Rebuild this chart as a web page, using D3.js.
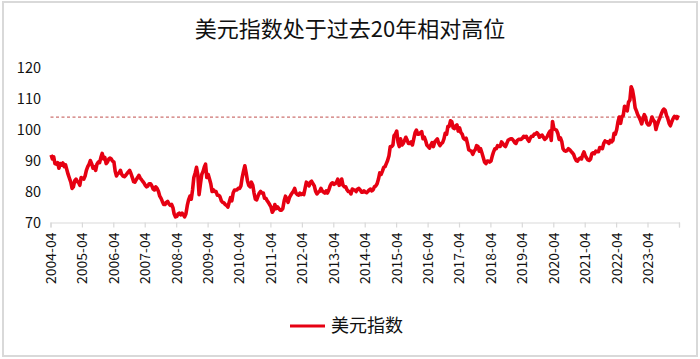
<!DOCTYPE html>
<html><head><meta charset="utf-8">
<script src="https://cdn.jsdelivr.net/npm/d3@7"></script>
<style>
html,body{margin:0;padding:0;background:#fff;}
svg{display:block;font-family:"Noto Sans CJK SC","Noto Sans",sans-serif;}
</style></head>
<body>
<svg id="chart" width="700" height="359"></svg>
<script>
// Semi-monthly readings of the US Dollar Index (two per month), April 2004 – March 2024
const y2004 = [91.8,90.5, 91.2,89.0, 88.8,89.3, 87.5,89.0, 88.5,89.2, 88.0,88.6, 87.0,85.5, 84.2,83.0, 81.0,81.5];
const y2005 = [83.5,84.0, 83.2,82.8, 82.0,84.5, 84.2,84.0, 85.0,86.8, 88.0,88.8, 90.0,89.0, 87.5,88.0, 86.8,88.8, 89.5,89.3, 91.0,92.3, 90.5,91.0];
const y2006 = [89.0,89.5, 90.5,90.8, 90.5,89.8, 89.5,86.5, 85.0,85.8, 86.0,86.8, 85.5,85.0, 84.8,85.2, 85.8,86.3, 86.8,85.8, 84.5,83.2, 83.0,83.8];
const y2007 = [84.5,85.2, 84.3,83.8, 83.3,82.8, 82.0,81.5, 81.8,82.5, 82.5,81.8, 80.8,80.5, 81.5,81.0, 80.0,78.5, 77.8,76.8, 75.8,75.8, 76.5,76.8];
const y2008 = [76.0,75.5, 75.8,74.8, 72.8,71.8, 72.0,72.8, 73.0,72.5, 73.0,72.5, 71.8,72.8, 75.5,77.3, 78.5,77.5, 80.5,84.5, 86.0,87.8, 85.5,79.0];
const y2009 = [82.5,85.5, 86.5,88.0, 88.8,84.5, 85.5,84.0, 82.5,80.0, 80.5,80.0, 80.0,78.8, 78.8,78.3, 77.0,76.5, 76.3,75.8, 75.5,75.0, 76.5,78.0];
const y2010 = [77.0,79.5, 80.5,80.5, 80.5,81.0, 81.0,81.8, 84.5,86.5, 88.3,86.0, 83.5,82.0, 81.5,83.0, 82.0,79.5, 77.5,77.3, 78.5,79.5, 80.0,79.5];
const y2011 = [79.5,77.8, 77.8,77.0, 76.5,75.8, 75.0,73.3, 74.0,75.8, 74.5,75.0, 74.5,74.0, 74.0,74.5, 77.0,78.5, 77.5,76.5, 78.0,78.8, 79.5,80.0];
const y2012 = [81.0,79.5, 79.0,78.8, 79.5,79.0, 79.3,79.0, 81.0,83.0, 82.5,81.8, 83.0,83.3, 82.5,81.8, 80.0,79.2, 79.8,80.0, 81.0,80.2, 79.8,79.5];
const y2013 = [80.2,79.5, 80.5,81.8, 82.5,82.8, 82.3,82.5, 83.0,84.0, 82.0,82.5, 84.0,82.0, 81.5,81.5, 80.5,80.0, 80.0,79.2, 80.8,80.5, 80.5,80.0];
const y2014 = [80.8,81.0, 80.5,79.8, 79.8,80.2, 79.8,79.6, 80.0,80.5, 80.8,80.2, 80.6,81.5, 81.8,82.5, 84.0,86.0, 85.5,86.5, 87.8,88.0, 89.0,90.0];
const y2015 = [91.5,94.5, 94.5,95.0, 98.0,98.5, 99.5,96.0, 94.5,97.0, 95.0,95.5, 96.5,97.5, 96.5,95.5, 95.5,96.0, 95.0,97.0, 99.0,99.8, 98.5,98.5];
const y2016 = [99.0,99.3, 97.0,97.5, 96.5,95.0, 94.5,94.0, 95.0,95.8, 94.5,96.0, 96.5,97.0, 95.5,94.8, 95.5,95.8, 97.0,98.8, 98.5,101.0, 101.0,102.8];
const y2017 = [102.5,100.5, 100.3,101.2, 101.5,99.5, 100.5,99.0, 98.5,97.2, 96.8,97.2, 95.5,93.5, 93.2,93.0, 92.0,93.0, 93.5,94.8, 94.5,93.0, 93.8,92.5];
const y2018 = [91.0,89.5, 89.0,89.8, 89.8,89.5, 89.8,91.5, 92.8,93.8, 93.8,94.8, 94.5,94.5, 96.0,95.5, 94.8,94.5, 95.5,96.5, 96.8,97.0, 97.0,96.5];
const y2019 = [95.8,95.5, 96.5,96.8, 96.8,96.8, 97.2,97.8, 97.5,97.8, 96.8,96.2, 97.2,97.8, 97.8,98.5, 98.5,99.0, 98.5,97.5, 98.0,98.2, 97.5,96.8];
const y2020 = [97.2,97.8, 98.8,99.5, 96.5,102.6, 100.2,100.0, 99.8,98.8, 96.8,97.3, 96.2,93.8, 93.2,93.0, 93.2,93.8, 93.5,93.0, 92.5,92.0, 90.8,90.0];
const y2021 = [89.8,90.5, 90.8,90.5, 91.8,92.8, 91.5,90.8, 90.2,90.0, 90.5,92.2, 92.5,92.2, 93.0,92.8, 92.8,94.2, 94.0,93.8, 95.5,96.3, 96.0,96.0];
const y2022 = [95.5,96.5, 96.0,96.5, 98.8,98.5, 100.0,102.5, 104.0,102.0, 104.2,104.5, 107.5,106.5, 106.0,108.8, 109.5,113.8, 112.8,110.5, 107.0,106.0, 104.8,104.0];
const y2023 = [103.0,101.8, 103.5,104.8, 104.0,102.2, 101.5,101.5, 102.5,104.0, 103.0,102.5, 100.0,101.5, 102.8,103.8, 105.0,106.0, 106.6,106.2, 104.5,103.5, 102.0,101.2];
const y2024 = [102.5,103.5, 104.2,104.0, 103.5,104.6];

const seriesName = "美元指数";
const titleText = "美元指数处于过去20年相对高位";
const refLevel = [104];
const yTicks = [70, 80, 90, 100, 110, 120];
const tickYears = d3.range(2004, 2025);

const values = [].concat(y2004,y2005,y2006,y2007,y2008,y2009,y2010,y2011,y2012,y2013,
  y2014,y2015,y2016,y2017,y2018,y2019,y2020,y2021,y2022,y2023,y2024);
const data = values.map((v, i) => ({
  date: new Date(2004, 3 + Math.floor(i / 2), i % 2 ? 23 : 8),
  value: v
}));

const svg = d3.select("#chart");
const W = 700, H = 359;

// outer frame
svg.append("rect").attr("x", 3).attr("y", 2).attr("width", W - 6).attr("height", H - 5)
  .attr("fill", "#fff").attr("stroke", "#d9d9d9").attr("stroke-width", 2);

const x = d3.scaleTime()
  .domain([new Date(2004, 3, 1), new Date(2024, 3, 1)])
  .range([50.5, 679]);
const y = d3.scaleLinear().domain([70, 120]).range([222.5, 67.5]);

// title
svg.append("text").attr("x", 350).attr("y", 37).attr("text-anchor", "middle")
  .attr("font-size", 22).attr("fill", "#111").text(titleText);

// y axis (labels only)
const yAxis = svg.append("g").attr("transform", "translate(41,0)")
  .call(d3.axisLeft(y).tickValues(yTicks).tickSize(0).tickPadding(0));
yAxis.select(".domain").remove();
yAxis.selectAll("text").attr("font-size", 14.5).attr("fill", "#111")
  .attr("font-family", "'Noto Sans CJK SC','Noto Sans',sans-serif");

// x axis
const xAxis = svg.append("g").attr("transform", "translate(0,222.5)")
  .call(d3.axisBottom(x)
    .tickValues(tickYears.map(yr => new Date(yr, 3, 1)))
    .tickSize(5)
    .tickFormat(d => d.getFullYear() < 2024 ? d3.timeFormat("%Y-%m")(d) : ""));
xAxis.select(".domain").attr("stroke", "#d9d9d9").attr("stroke-width", 1.2);
xAxis.selectAll(".tick line").attr("stroke", "#d9d9d9").attr("stroke-width", 1.2);
xAxis.selectAll("text")
  .attr("font-size", 14).attr("fill", "#111")
  .attr("font-family", "'Noto Sans CJK SC','Noto Sans',sans-serif")
  .attr("text-anchor", "end")
  .attr("transform", "rotate(-90)")
  .attr("x", -10).attr("y", 0).attr("dy", "0.35em");

// reference dashed line
svg.selectAll(".ref").data(refLevel).enter().append("line")
  .attr("x1", x.range()[0]).attr("x2", x.range()[1])
  .attr("y1", d => y(d)).attr("y2", d => y(d))
  .attr("stroke", "#c0504d").attr("stroke-width", 1).attr("stroke-dasharray", "3,2.5");

// series line
const line = d3.line().x(d => x(d.date)).y(d => y(d.value));
svg.append("path").datum(data)
  .attr("fill", "none").attr("stroke", "#e60012").attr("stroke-width", 3.6)
  .attr("stroke-linejoin", "round").attr("d", line);

// legend
const lg = svg.append("g").attr("transform", "translate(290,326)");
lg.append("line").attr("x1", 0).attr("x2", 35).attr("y1", 0).attr("y2", 0)
  .attr("stroke", "#e60012").attr("stroke-width", 3);
lg.append("text").attr("x", 41).attr("y", 0).attr("dy", "0.36em")
  .attr("font-size", 18).attr("fill", "#111").text(seriesName);
</script>
</body></html>
